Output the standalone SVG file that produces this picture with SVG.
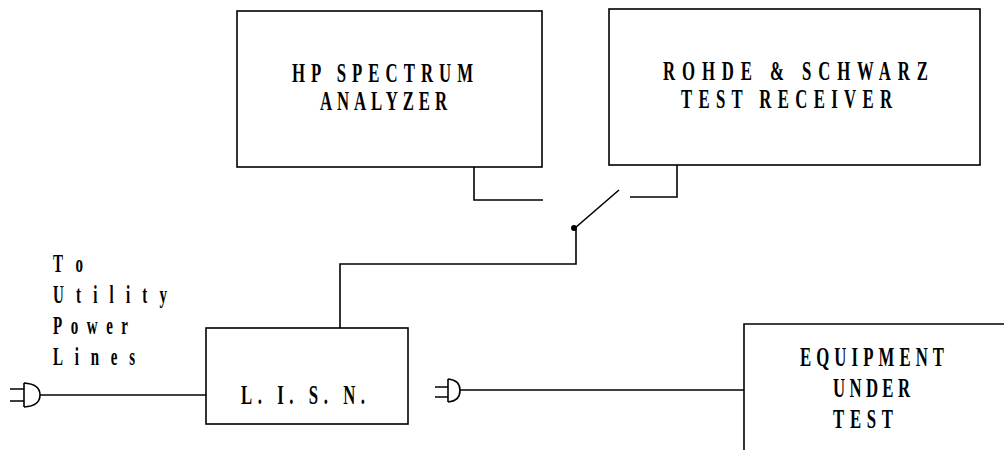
<svg xmlns="http://www.w3.org/2000/svg" width="1004" height="450" viewBox="0 0 1004 450">
<style>
.box{fill:none;stroke:#000;stroke-width:1.6}
.ln{fill:none;stroke:#000;stroke-width:1.6}
.lbl{font-family:"Liberation Serif","Times New Roman",serif;font-size:27px;font-weight:bold;fill:#000}
.sm{font-family:"Liberation Serif","Times New Roman",serif;font-size:25px;font-weight:bold;fill:#000}
</style>
<rect width="1004" height="450" fill="#fff"/>
<g id="hp">
<rect class="box" x="237" y="11" width="305" height="156"/>
<text class="lbl" transform="translate(292,82) scale(0.62,1)" x="0" y="0" textLength="292" lengthAdjust="spacing">HP SPECTRUM</text>
<text class="lbl" transform="translate(320,110) scale(0.62,1)" x="0" y="0" textLength="204.8" lengthAdjust="spacing">ANALYZER</text>
</g>
<g id="rs">
<rect class="box" x="609" y="9" width="371" height="156"/>
<text class="lbl" transform="translate(663,80) scale(0.62,1)" x="0" y="0" textLength="427.4" lengthAdjust="spacing">ROHDE &amp; SCHWARZ</text>
<text class="lbl" transform="translate(681,108) scale(0.62,1)" x="0" y="0" textLength="340.3" lengthAdjust="spacing">TEST RECEIVER</text>
</g>
<g id="lisn">
<rect class="box" x="206" y="328" width="202" height="96"/>
<text class="lbl" transform="translate(241,404) scale(0.62,1)" x="0" y="0" textLength="200" lengthAdjust="spacing">L. I. S. N.</text>
</g>
<g id="eut">
<path class="box" d="M1004,324 H744 V450"/>
<text class="lbl" transform="translate(800,366) scale(0.62,1)" x="0" y="0" textLength="232.3" lengthAdjust="spacing">EQUIPMENT</text>
<text class="lbl" transform="translate(833,397) scale(0.62,1)" x="0" y="0" textLength="124.2" lengthAdjust="spacing">UNDER</text>
<text class="lbl" transform="translate(833,428) scale(0.62,1)" x="0" y="0" textLength="96.8" lengthAdjust="spacing">TEST</text>
</g>
<g id="utility">
<text class="sm" transform="translate(53,272) scale(0.6,1)" x="0" y="0" textLength="50" lengthAdjust="spacing">To</text>
<text class="sm" transform="translate(53,303) scale(0.6,1)" x="0" y="0" textLength="190" lengthAdjust="spacing">Utility</text>
<text class="sm" transform="translate(53,334) scale(0.6,1)" x="0" y="0" textLength="125" lengthAdjust="spacing">Power</text>
<text class="sm" transform="translate(53,365) scale(0.6,1)" x="0" y="0" textLength="136.7" lengthAdjust="spacing">Lines</text>
</g>
<g id="plug-left">
<path class="ln" d="M24,383 V407 M24,383 Q40,384 40,395 Q40,406 24,407 M10,389 H24 M10,401 H24"/>
</g>
<g id="plug-mid">
<path class="ln" d="M448,379 V402 M448,379 Q460,380 460,390.5 Q460,401 448,402 M435,387 H448 M435,397 H448"/>
</g>
<g id="connectors">
<path class="ln" d="M40,395 H206"/>
<path class="ln" d="M460,390 H744"/>
<path class="ln" d="M474,167 V200 H543"/>
<path class="ln" d="M677,165 V197 H630"/>
<path class="ln" d="M619,190 L575,228"/>
<circle cx="574" cy="228" r="3" fill="#000"/>
<path class="ln" d="M576,228 V264 H340 V328"/>
</g>
</svg>
